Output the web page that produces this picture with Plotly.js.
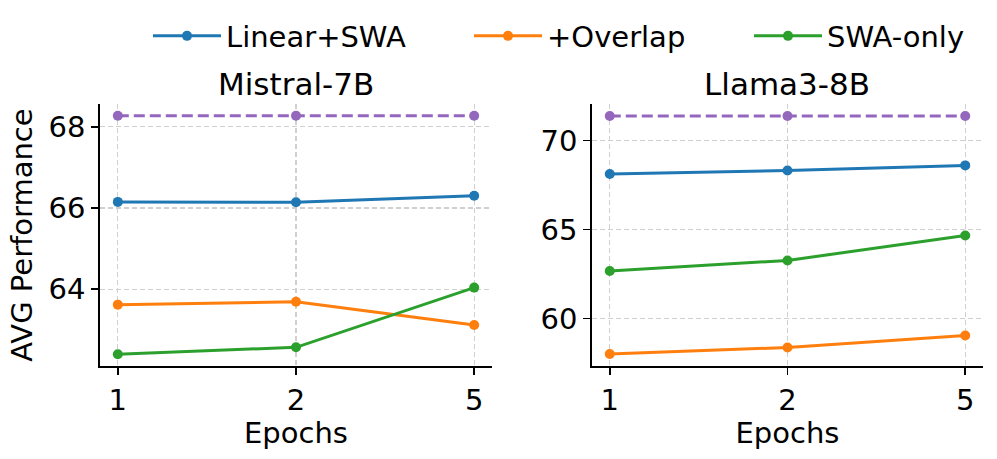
<!DOCTYPE html>
<html><head><meta charset="utf-8">
<script src="https://cdn.plot.ly/plotly-3.0.1.min.js"></script>
<style>body{margin:0;padding:0;background:#fff}#plot{width:997px;height:459px}</style>
</head><body><div id="plot"></div>
<script>
const epochs = ['1', '2', '5'];
const mistralLinearSWA = [66.15, 66.14, 66.30];
const mistralOverlap = [63.62, 63.69, 63.12];
const mistralSWAOnly = [62.40, 62.57, 64.04];
const mistralRef = [68.27, 68.27, 68.27];
const llamaLinearSWA = [68.12, 68.31, 68.60];
const llamaOverlap = [58.00, 58.37, 59.04];
const llamaSWAOnly = [62.67, 63.26, 64.66];
const llamaRef = [71.38, 71.38, 71.38];
const seriesNames = ['Linear+SWA', '+Overlap', 'SWA-only'];
const colors = ['#1f77b4', '#ff7f0e', '#2ca02c', '#9467bd'];

function tr(y, name, color, xa, ya, legendId, dash) {
  const t = {x: epochs, y: y, name: name, type: 'scatter', mode: 'lines+markers',
    xaxis: xa, yaxis: ya, showlegend: !!legendId,
    line: {color: color, width: 3, dash: dash || 'solid'},
    marker: {color: color, size: 10}};
  if (legendId) t.legend = legendId;
  return t;
}
const data = [
  tr(mistralLinearSWA, seriesNames[0], colors[0], 'x', 'y', 'legend'),
  tr(mistralOverlap, seriesNames[1], colors[1], 'x', 'y', 'legend2'),
  tr(mistralSWAOnly, seriesNames[2], colors[2], 'x', 'y', 'legend3'),
  tr(mistralRef, 'ref', colors[3], 'x', 'y', null, '11px,5px'),
  tr(llamaLinearSWA, seriesNames[0], colors[0], 'x2', 'y2', null),
  tr(llamaOverlap, seriesNames[1], colors[1], 'x2', 'y2', null),
  tr(llamaSWAOnly, seriesNames[2], colors[2], 'x2', 'y2', null),
  tr(llamaRef, 'ref', colors[3], 'x2', 'y2', null, '11px,5px'),
];
const FS = 29;
const font = {family: 'DejaVu Sans', size: FS, color: '#000'};
function xax(dom, anchor) {
  return {domain: dom, anchor: anchor, type: 'category', range: [-0.1, 2.1], automargin: false,
    showline: true, linecolor: '#000', linewidth: 1.7, ticks: 'outside', ticklen: 7, tickwidth: 1.7, tickcolor: '#000',
    showgrid: true, gridcolor: '#d0d0d0', griddash: '5px,3px', gridwidth: 1.3, zeroline: false,
    tickfont: font, title: {text: 'Epochs', font: font, standoff: 4}};
}
function yax(dom, anchor, range, dtick) {
  return {domain: dom, anchor: anchor, range: range, dtick: dtick, tick0: 0, automargin: false,
    showline: true, linecolor: '#000', linewidth: 1.7, ticks: 'outside', ticklen: 7, tickwidth: 1.7, tickcolor: '#000',
    showgrid: true, gridcolor: '#d0d0d0', griddash: '5px,3px', gridwidth: 1.3, zeroline: false,
    tickfont: font};
}
const IW = 68;
function leg(textStartPx) {
  return {x: (textStartPx - IW - 11 - 100) / W, y: (366 - 36) / H, xanchor: 'left', yanchor: 'middle', orientation: 'h',
    font: font, bgcolor: 'rgba(0,0,0,0)', borderwidth: 0, itemwidth: IW};
}
const W = 883, H = 262;
const layout = {
  width: 997, height: 459, margin: {l: 100, r: 14, t: 104, b: 93, pad: 0, autoexpand: false},
  paper_bgcolor: '#fff', plot_bgcolor: '#fff', font: font,
  xaxis: xax([0, 392 / W], 'y'),
  yaxis: Object.assign(yax([0, 1], 'x', [62.11, 68.56], 2),
    {title: {text: 'AVG Performance', font: font, standoff: 7}}),
  xaxis2: xax([492 / W, 1], 'y2'),
  yaxis2: yax([0, 1], 'x2', [57.33, 72.05], 5),
  legend: leg(227),
  legend2: leg(548),
  legend3: leg(828),
  annotations: [
    {text: 'Mistral-7B', x: 196 / W, y: (366 - 84) / H, xref: 'paper', yref: 'paper', showarrow: false,
      xanchor: 'center', yanchor: 'middle', font: {family: 'DejaVu Sans', size: 31, color: '#000'}},
    {text: 'Llama3-8B', x: 687 / W, y: (366 - 84) / H, xref: 'paper', yref: 'paper', showarrow: false,
      xanchor: 'center', yanchor: 'middle', font: {family: 'DejaVu Sans', size: 31, color: '#000'}}
  ]
};
Plotly.newPlot('plot', data, layout, {displayModeBar: false, staticPlot: true});
</script></body></html>
